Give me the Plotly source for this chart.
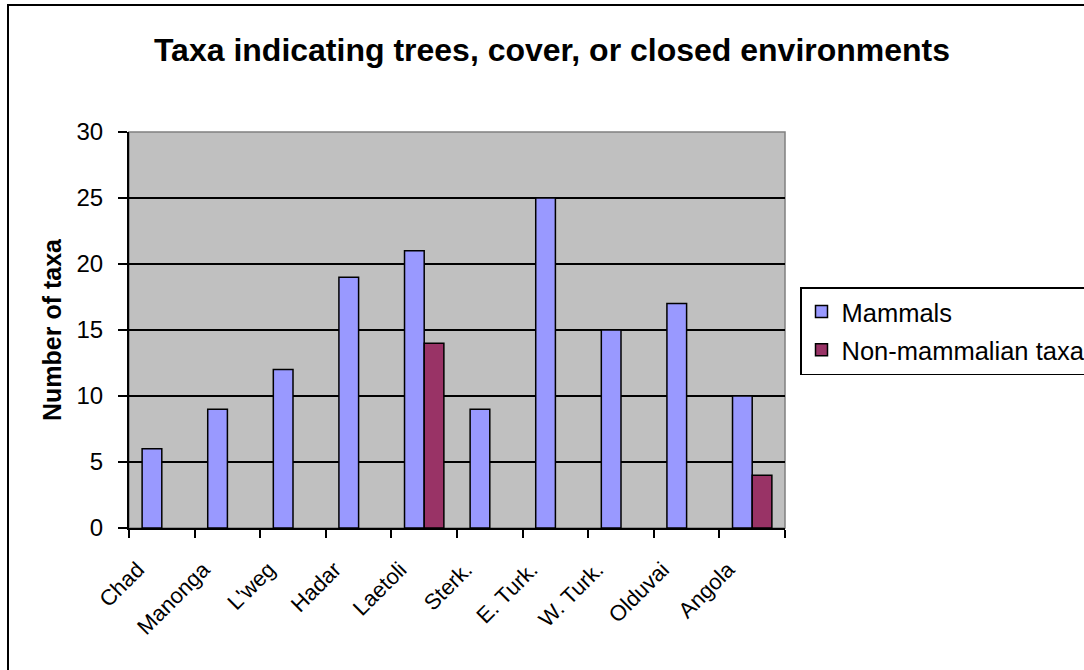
import plotly.graph_objects as go

# Sites and taxon counts
sites = ["Chad", "Manonga", "L'weg", "Hadar", "Laetoli", "Sterk.",
         "E. Turk.", "W. Turk.", "Olduvai", "Angola"]
mammals = [6, 9, 12, 19, 21, 9, 25, 15, 17, 10]
non_mammalian = [None, None, None, None, 14, None, None, None, None, 4]
y_ticks = [0, 5, 10, 15, 20, 25, 30]

FONT = "Arial, 'Liberation Sans', sans-serif"

W, H = 1084, 670
L, R, T, B = 129, 1084 - 785, 132, 670 - 528
pw, ph = W - L - R, H - T - B


def px_x(p):
    return (p - L) / pw


def px_y(p):
    return (H - B - p) / ph


fig = go.Figure()
fig.add_trace(go.Bar(
    x=sites, y=mammals, name="Mammals", legendgroup="m",
    marker=dict(color="#9999FF", line=dict(color="black", width=1.5)),
))
fig.add_trace(go.Bar(
    x=sites, y=non_mammalian, name="Non-mammalian taxa", legendgroup="n",
    marker=dict(color="#993366", line=dict(color="black", width=1.5)),
))

# outer chart frame
fig.add_shape(type="rect", xref="paper", yref="paper",
              x0=px_x(8), x1=px_x(1100), y0=px_y(690), y1=px_y(5),
              line=dict(color="black", width=2), fillcolor="rgba(0,0,0,0)",
              layer="below")
# plot-area border (grey)
fig.add_shape(type="rect", xref="paper", yref="paper",
              x0=0, x1=1, y0=0, y1=1,
              line=dict(color="#808080", width=1.5), fillcolor="rgba(0,0,0,0)",
              layer="below")

fig.update_layout(
    width=W, height=H,
    margin=dict(l=L, r=R, t=T, b=B, autoexpand=False),
    paper_bgcolor="white",
    plot_bgcolor="#C0C0C0",
    barmode="group",
    bargap=0.4,
    bargroupgap=0,
    font=dict(family=FONT, color="black"),
    title=dict(
        text="<b>Taxa indicating trees, cover, or closed environments</b>",
        font=dict(family=FONT, size=32, color="black"),
        x=552 / W, xref="container", xanchor="center",
        y=1 - 50 / H, yref="container", yanchor="middle",
    ),
    showlegend=True,
    legend=dict(
        x=px_x(800), xanchor="left",
        y=px_y(287), yanchor="top",
        bgcolor="white", bordercolor="black", borderwidth=1.5,
        font=dict(family=FONT, size=25.5, color="black"),
        traceorder="grouped", tracegroupgap=2,
        itemwidth=30,
    ),
    xaxis=dict(
        type="category",
        showgrid=False,
        showline=True, linecolor="black", linewidth=2,
        ticks="outside", tickson="boundaries", ticklen=8,
        tickwidth=2, tickcolor="black",
        tickangle=-45,
        tickfont=dict(family=FONT, size=22, color="black"),
        ticklabelshift=-24,
        ticklabelstandoff=18,
        zeroline=False,
    ),
    yaxis=dict(
        range=[0, 30],
        tickvals=y_ticks,
        showgrid=True, gridcolor="black", gridwidth=1.5,
        showline=True, linecolor="black", linewidth=2,
        ticks="outside", ticklen=9, tickwidth=2, tickcolor="black",
        tickfont=dict(family=FONT, size=24, color="black"),
        ticklabelstandoff=10,
        zeroline=False,
        title=dict(text="<b>Number of taxa</b>",
                   font=dict(family=FONT, size=25, color="black"),
                   standoff=8),
    ),
)

fig.write_html("out.html")
